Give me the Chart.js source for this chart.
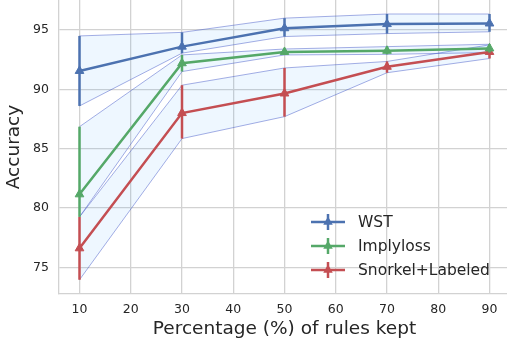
<!DOCTYPE html>
<html>
<head>
<meta charset="utf-8">
<script src="https://cdn.jsdelivr.net/npm/chart.js@4/dist/chart.umd.min.js"></script>
<style>
  html, body { margin: 0; padding: 0; background: #fff; overflow: hidden; }
  #wrap { width: 507px; height: 344px; overflow: hidden; }
</style>
</head>
<body>
<div id="wrap"><canvas id="chart" width="510" height="344"></canvas></div>
<script>
// values
const xValues = [10, 30, 50, 70, 90];
const xTicks = [10, 20, 30, 40, 50, 60, 70, 80, 90];
const yTicks = [75, 80, 85, 90, 95];

const seriesNames = ["WST", "Implyloss", "Snorkel+Labeled"];

const wstMean = [91.55, 93.6, 95.15, 95.5, 95.55];
const wstLow = [88.6, 93.05, 94.45, 94.7, 94.85];
const wstHigh = [94.5, 94.8, 96.0, 96.35, 96.35];

const implyMean = [81.15, 92.2, 93.15, 93.25, 93.45];
const implyLow = [79.25, 91.5, 92.9, 92.95, 93.1];
const implyHigh = [86.85, 92.9, 93.4, 93.6, 93.8];

const snorkelMean = [76.6, 88.0, 89.65, 91.9, 93.15];
const snorkelLow = [73.95, 85.85, 87.7, 91.4, 92.6];
const snorkelHigh = [79.25, 90.35, 91.8, 92.35, 93.75];

const colors = ["#4c72b0", "#55a868", "#c44e52"];
const bandFill = "rgba(30, 144, 255, 0.075)";
const bandEdge = "rgba(70, 90, 200, 0.55)";
const gridColor = "#d2d2d2";
const textColor = "#262626";

function pts(ys) {
  return xValues.map((x, i) => ({ x: x, y: ys[i] }));
}

const means = [wstMean, implyMean, snorkelMean];
const lows = [wstLow, implyLow, snorkelLow];
const highs = [wstHigh, implyHigh, snorkelHigh];

const datasets = [];
// shaded bands (lower edge, then upper edge filled down to it)
for (let s = 0; s < 3; s++) {
  datasets.push({
    label: seriesNames[s] + " low",
    data: pts(lows[s]),
    borderColor: bandEdge,
    borderWidth: 0.9,
    pointRadius: 0,
    fill: false,
    order: 3
  });
  datasets.push({
    label: seriesNames[s] + " high",
    data: pts(highs[s]),
    borderColor: bandEdge,
    backgroundColor: bandFill,
    borderWidth: 0.9,
    pointRadius: 0,
    fill: "-1",
    order: 3
  });
}
// main lines
for (let s = 0; s < 3; s++) {
  datasets.push({
    label: seriesNames[s],
    data: pts(means[s]),
    errLow: lows[s],
    errHigh: highs[s],
    borderColor: colors[s],
    backgroundColor: colors[s],
    borderWidth: 2.5,
    pointStyle: "triangle",
    pointRadius: 5,
    pointBorderWidth: 1,
    pointBackgroundColor: colors[s],
    pointBorderColor: colors[s],
    fill: false,
    isMain: true,
    order: 1
  });
}

// vertical error bars, drawn just under each main line
const errorBars = {
  id: "errorBars",
  beforeDatasetDraw(chart, args) {
    const ds = chart.data.datasets[args.index];
    if (!ds.isMain) return;
    const ctx = chart.ctx;
    const xs = chart.scales.x, ys = chart.scales.y;
    ctx.save();
    ctx.strokeStyle = ds.borderColor;
    ctx.lineWidth = 2.5;
    xValues.forEach((x, i) => {
      const px = xs.getPixelForValue(x);
      ctx.beginPath();
      ctx.moveTo(px, ys.getPixelForValue(ds.errLow[i]));
      ctx.lineTo(px, ys.getPixelForValue(ds.errHigh[i]));
      ctx.stroke();
    });
    ctx.restore();
  }
};

function drawTriangle(ctx, x, y, r, color) {
  ctx.beginPath();
  ctx.moveTo(x, y - r);
  ctx.lineTo(x + r * Math.sin(Math.PI / 3), y + r * 0.5);
  ctx.lineTo(x - r * Math.sin(Math.PI / 3), y + r * 0.5);
  ctx.closePath();
  ctx.fillStyle = color;
  ctx.fill();
}

const legendBox = {
  id: "legendBox",
  afterDraw(chart) {
    const ctx = chart.ctx;
    const mains = chart.data.datasets.filter(d => d.isMain);
    ctx.save();
    mains.forEach((d, i) => {
      const y = 222 + i * 24;
      ctx.strokeStyle = d.borderColor;
      ctx.lineWidth = 2.5;
      ctx.beginPath();
      ctx.moveTo(311, y);
      ctx.lineTo(345, y);
      ctx.stroke();
      ctx.beginPath();
      ctx.moveTo(328, y - 8);
      ctx.lineTo(328, y + 8);
      ctx.stroke();
      drawTriangle(ctx, 328, y, 5.5, d.borderColor);
      ctx.fillStyle = textColor;
      ctx.font = "15.5px 'DejaVu Sans'";
      ctx.textBaseline = "middle";
      ctx.textAlign = "left";
      ctx.fillText(d.label, 358, y + 1);
    });
    ctx.restore();
  }
};

new Chart(document.getElementById("chart").getContext("2d"), {
  type: "line",
  data: { datasets: datasets },
  plugins: [errorBars, legendBox],
  options: {
    responsive: false,
    animation: false,
    devicePixelRatio: 1,
    layout: { padding: 0, autoPadding: false },
    plugins: {
      legend: { display: false },
      tooltip: { enabled: false }
    },
    scales: {
      x: {
        type: "linear",
        min: 6,
        max: 94,
        afterBuildTicks: s => { s.ticks = xTicks.map(v => ({ value: v })); },
        afterFit: s => { s.height = 50; s.paddingLeft = 0; s.paddingRight = 0; },
        grid: {
          color: c => (c.tick && xTicks.includes(c.tick.value)) ? gridColor : "rgba(0,0,0,0)",
          lineWidth: 1.3,
          drawTicks: false
        },
        border: { color: gridColor, width: 1.3 },
        ticks: { color: textColor, padding: 8, font: { family: "DejaVu Sans", size: 12.5 } },
        title: {
          display: true,
          text: "Percentage (%) of rules kept",
          color: textColor,
          font: { family: "DejaVu Sans", size: 18.5 },
          padding: { top: 4, bottom: 4 }
        }
      },
      y: {
        min: 72.75,
        max: 97.53,
        afterBuildTicks: s => { s.ticks = yTicks.map(v => ({ value: v })); },
        afterFit: s => { s.width = 59; s.paddingTop = 0; s.paddingBottom = 0; },
        grid: { color: gridColor, lineWidth: 1.3, drawTicks: false },
        border: { color: gridColor, width: 1.3 },
        ticks: { color: textColor, padding: 10, font: { family: "DejaVu Sans", size: 12.5 } },
        title: {
          display: true,
          text: "Accuracy",
          color: textColor,
          font: { family: "DejaVu Sans", size: 18.5 },
          padding: { top: 3, bottom: 3 }
        }
      }
    }
  }
});
</script>
</body>
</html>
